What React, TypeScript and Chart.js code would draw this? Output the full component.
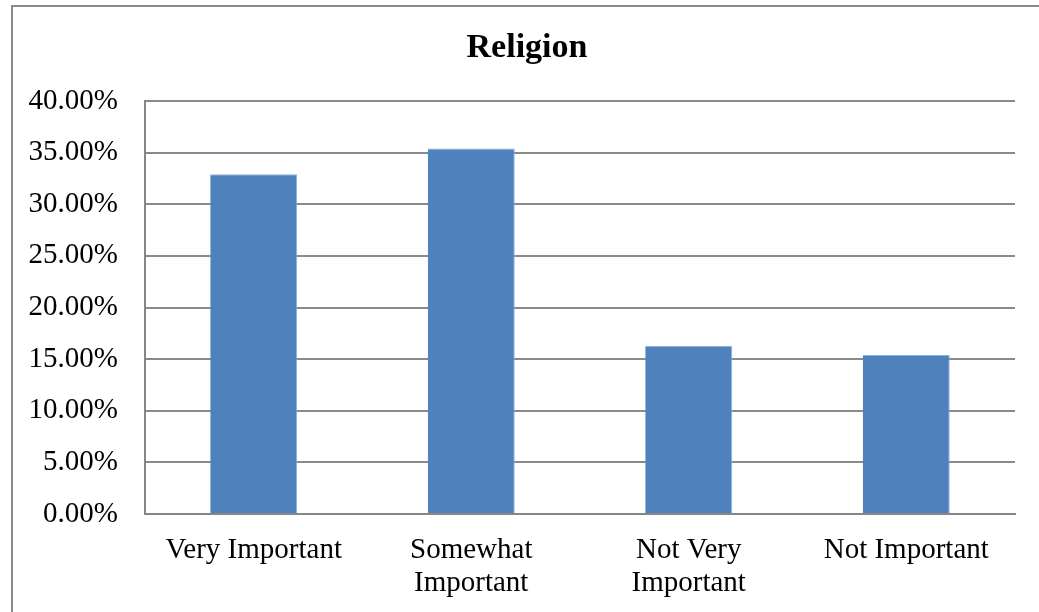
import React, { useEffect, useRef } from "react";
import { Chart, registerables } from "chart.js";

Chart.register(...registerables);

const categories: (string | string[])[] = [
  "Very Important",
  ["Somewhat", "Important"],
  ["Not Very", "Important"],
  "Not Important",
];
const values: number[] = [32.9, 35.4, 16.3, 15.4];
const yTicks: number[] = [0, 5, 10, 15, 20, 25, 30, 35, 40];
const titleText = "Religion";

const SERIF = "'Liberation Serif', 'Times New Roman', serif";

const titlePlugin = {
  id: "offsetTitle",
  afterDraw(chart: any) {
    const ctx = chart.ctx;
    const area = chart.chartArea;
    ctx.save();
    ctx.font = `bold 34px ${SERIF}`;
    ctx.fillStyle = "#000";
    ctx.textAlign = "center";
    ctx.textBaseline = "alphabetic";
    // centred over the frame's visible width
    ctx.fillText(titleText, (area.left + area.right) / 2 - 53, area.top - 44);
    ctx.restore();
  },
};

export default function App() {
  const ref = useRef<HTMLCanvasElement | null>(null);
  useEffect(() => {
    if (!ref.current) return;
    const chart = new Chart(ref.current, {
      type: "bar",
      data: {
        labels: categories,
        datasets: [
          {
            data: values,
            backgroundColor: "#4F81BD",
            borderColor: "#8DB0DC",
            borderWidth: { top: 1, right: 1, left: 0, bottom: 0 } as any,
            categoryPercentage: 0.4,
            barPercentage: 1,
          },
        ],
      },
      plugins: [titlePlugin],
      options: {
        animation: false,
        responsive: false,
        maintainAspectRatio: false,
        layout: { padding: { left: 0, right: 24, top: 101, bottom: 0 } },
        plugins: {
          legend: { display: false },
          tooltip: { enabled: false },
          title: { display: false },
        },
        scales: {
          x: {
            grid: { display: false, drawTicks: false },
            border: { display: true, color: "#868686", width: 2 },
            ticks: {
              color: "#000",
              padding: 20,
              maxRotation: 0,
              autoSkip: false,
              font: { family: SERIF, size: 29, lineHeight: 1.14 },
            },
            afterFit: (s: any) => {
              s.height = 98;
            },
          },
          y: {
            min: 0,
            max: 40,
            afterBuildTicks: (s: any) => {
              s.ticks = yTicks.map((v) => ({ value: v }));
            },
            grid: { color: "#8A8A8A", lineWidth: 2, drawTicks: false },
            border: { display: true, color: "#868686", width: 2 },
            ticks: {
              color: "#000",
              padding: 27,
              callback: (v: any) => Number(v).toFixed(2) + "%",
              font: { family: SERIF, size: 29 },
            },
            afterFit: (s: any) => {
              s.width = 145;
            },
          },
        },
      },
    });
    return () => chart.destroy();
  }, []);
  return (
    <div style={{ position: "fixed", left: 0, top: 0, width: 1039, height: 612, background: "#fff", overflow: "hidden" }}>
      <div
        style={{
          position: "absolute",
          left: 11,
          top: 5,
          width: 1100,
          height: 700,
          border: "2px solid #8a8a8a",
          boxSizing: "border-box",
        }}
      />
      <canvas ref={ref} width={1039} height={612} style={{ position: "absolute", left: 0, top: 0 }} />
    </div>
  );
}
